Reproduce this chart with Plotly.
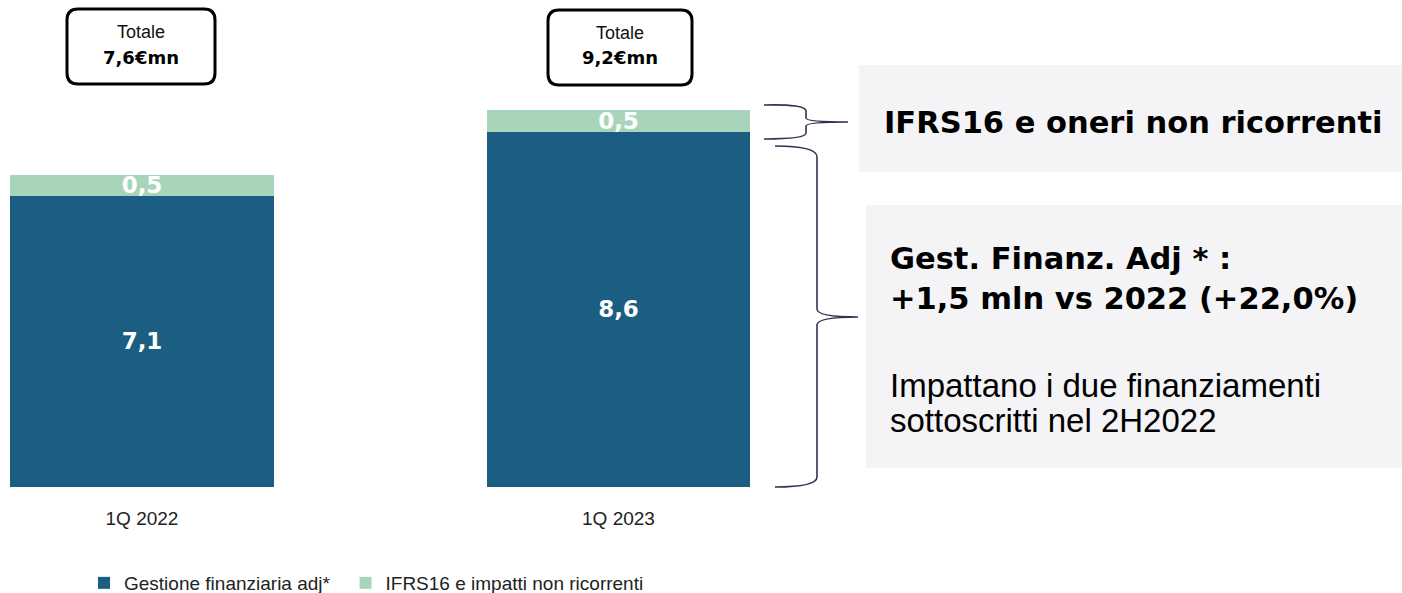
import plotly.graph_objects as go

# ---- data ----
categories = ["1Q 2022", "1Q 2023"]
gestione_adj = [7.07, 8.62]      # Gestione finanziaria adj*
ifrs16 = [0.51, 0.54]            # IFRS16 e impatti non ricorrenti
series_names = ["Gestione finanziaria adj*", "IFRS16 e impatti non ricorrenti"]
totals = [a + b for a, b in zip(gestione_adj, ifrs16)]

BLUE = "#1B5E82"
GREEN = "#A8D5BA"
BRACE = "#3B2D55"
GREYBOX = "#F4F4F6"

W, H = 1402, 593
PLOT_BOTTOM = 487
PX_PER_UNIT = 41.2


def X(px):
    return px / W


def Y(py):
    return (PLOT_BOTTOM - py) / PLOT_BOTTOM


fig = go.Figure()
fig.add_trace(go.Bar(
    x=categories, y=gestione_adj, name=series_names[0] + "\u00a0\u00a0", marker_color=BLUE,
    marker_line_width=0, texttemplate="%{y:.1f}", textposition="inside",
    insidetextanchor="middle", textangle=0, constraintext="none",
    textfont=dict(family="DejaVu Sans", size=23, color="white", weight="bold"),
))
fig.add_trace(go.Bar(
    x=categories, y=ifrs16, name=series_names[1], marker_color=GREEN,
    marker_line_width=0, texttemplate="%{y:.1f}", textposition="inside",
    insidetextanchor="middle", textangle=0, constraintext="none",
    textfont=dict(family="DejaVu Sans", size=23, color="white", weight="bold"),
))

shapes = []
annotations = []


def rounded_box(x0, y0, x1, y1, r):
    path = (f"M {X(x0 + r)},{Y(y0)} L {X(x1 - r)},{Y(y0)} Q {X(x1)},{Y(y0)} {X(x1)},{Y(y0 + r)} "
            f"L {X(x1)},{Y(y1 - r)} Q {X(x1)},{Y(y1)} {X(x1 - r)},{Y(y1)} "
            f"L {X(x0 + r)},{Y(y1)} Q {X(x0)},{Y(y1)} {X(x0)},{Y(y1 - r)} "
            f"L {X(x0)},{Y(y0 + r)} Q {X(x0)},{Y(y0)} {X(x0 + r)},{Y(y0)} Z")
    return dict(type="path", xref="paper", yref="paper", path=path,
                line=dict(color="black", width=3), fillcolor="white")


boxes = [(67, 9, 215, 84), (548, 10, 692, 85)]
for (x0, y0, x1, y1), tot in zip(boxes, totals):
    shapes.append(rounded_box(x0, y0, x1, y1, 11))
    cx = (x0 + x1) / 2
    annotations.append(dict(x=X(cx), y=Y(y0 + 23), xref="paper", yref="paper",
                            text="Totale", showarrow=False, xanchor="center", yanchor="middle",
                            font=dict(family="Liberation Sans", size=18, color="#111")))
    annotations.append(dict(x=X(cx), y=Y(y0 + 48), xref="paper", yref="paper",
                            text="<b>" + f"{tot:.1f}".replace(".", ",") + "€mn</b>", showarrow=False,
                            xanchor="center", yanchor="middle",
                            font=dict(family="DejaVu Sans", size=18, color="black")))

# grey text boxes
shapes.append(dict(type="rect", xref="paper", yref="paper", x0=X(859), x1=X(1402), y0=Y(65), y1=Y(172),
                   fillcolor=GREYBOX, line=dict(width=0), layer="below"))
shapes.append(dict(type="rect", xref="paper", yref="paper", x0=X(866), x1=X(1402), y0=Y(205), y1=Y(468),
                   fillcolor=GREYBOX, line=dict(width=0), layer="below"))

# braces
small = (f"M {X(764)},{Y(105)} Q {X(806)},{Y(104)} {X(806)},{Y(111)} L {X(806)},{Y(118)} "
         f"Q {X(806)},{Y(122)} {X(848)},{Y(122)} Q {X(806)},{Y(122)} {X(806)},{Y(126)} "
         f"L {X(806)},{Y(133)} Q {X(806)},{Y(139)} {X(764)},{Y(139)}")
big = (f"M {X(775)},{Y(146)} Q {X(817)},{Y(146)} {X(817)},{Y(157)} L {X(817)},{Y(309)} "
       f"Q {X(817)},{Y(317)} {X(858)},{Y(317)} Q {X(817)},{Y(317)} {X(817)},{Y(325)} "
       f"L {X(817)},{Y(477)} Q {X(817)},{Y(487)} {X(775)},{Y(487)}")
for p in (small, big):
    shapes.append(dict(type="path", xref="paper", yref="paper", path=p,
                       line=dict(color=BRACE, width=1.6)))

bold_font = dict(family="DejaVu Sans", size=30.5, color="black", weight="bold")
reg_font = dict(family="Liberation Sans", size=33, color="black")
texts = [
    ("IFRS16 e oneri non ricorrenti", 882, 122, bold_font),
    ("Gest. Finanz. Adj * :", 888, 258, bold_font),
    ("+1,5 mln vs 2022 (+22,0%)", 888, 298, bold_font),
    ("Impattano i due finanziamenti", 888, 385, reg_font),
    ("sottoscritti nel 2H2022", 888, 420, reg_font),
]
for t, x, y, f in texts:
    annotations.append(dict(x=X(x), y=Y(y), xref="paper", yref="paper", text=t, showarrow=False,
                            xanchor="left", yanchor="middle", align="left", font=f))

x_lo = -142 / 476.5
fig.update_layout(
    width=W, height=H,
    margin=dict(l=0, r=0, t=0, b=H - PLOT_BOTTOM, autoexpand=False),
    barmode="stack", bargap=0.446,
    separators=",.",
    plot_bgcolor="white", paper_bgcolor="white",
    showlegend=True,
    legend=dict(orientation="h", x=X(84), y=Y(583), xanchor="left", yanchor="middle",
                font=dict(family="Liberation Sans", size=19, color="#222"),
                traceorder="normal", bgcolor="rgba(0,0,0,0)"),
    xaxis=dict(range=[x_lo, x_lo + W / 476.5], showgrid=False, zeroline=False, showline=False,
               ticks="", tickfont=dict(family="Liberation Sans", size=19, color="#222"),
               ticklabelstandoff=18),
    yaxis=dict(range=[0, PLOT_BOTTOM / PX_PER_UNIT], visible=False, showgrid=False),
    shapes=shapes, annotations=annotations,
)
fig.write_html("out.html", config={"displayModeBar": False},
               post_script="document.body.style.margin='0';document.body.style.overflow='hidden';")
